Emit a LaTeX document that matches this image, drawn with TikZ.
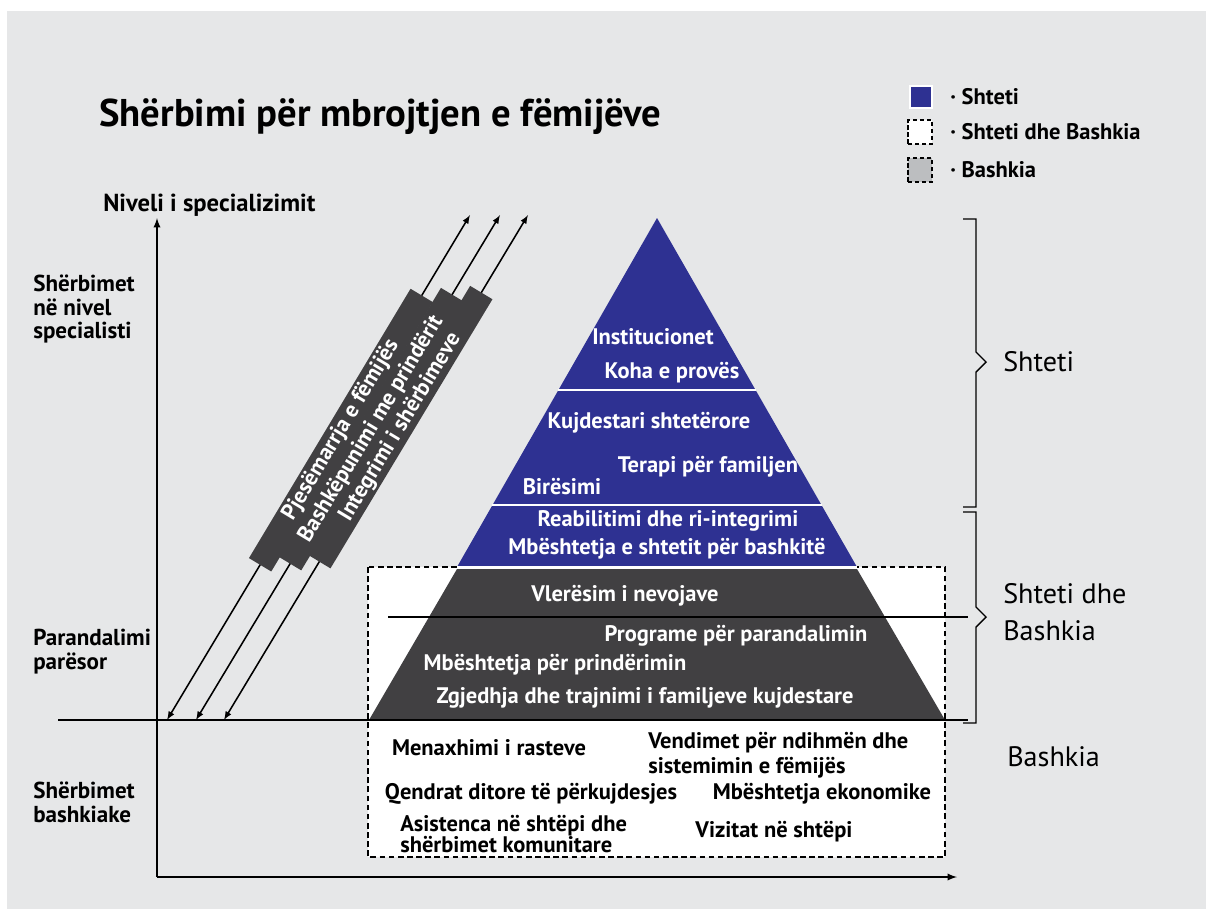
\documentclass[tikz,border=0pt]{standalone}
\usepackage{fontspec}
\setmainfont{PT Sans}
\usetikzlibrary{arrows}
\definecolor{shblue}{HTML}{2E3192}
\definecolor{shdark}{HTML}{414042}
\definecolor{shbg}{HTML}{E6E7E8}
\definecolor{shgrey}{HTML}{BCBEC0}
\begin{document}
\begin{tikzpicture}
  [x=0.025cm,y=-0.025cm,>=latex,
   every node/.style={font=\bfseries\fontsize{16}{18}\selectfont,inner sep=0pt},
   pyr/.style={text=white},
   side/.style={anchor=west,align=left,font=\bfseries\fontsize{16.4}{17}\selectfont},
   zone/.style={anchor=west,align=left,font=\mdseries\fontsize{20}{26}\selectfont},
   bar/.style={fill=shdark,text=white,sloped,minimum width=7.85cm,minimum height=0.65cm},
   key/.style={minimum size=0.6cm,draw,line width=1.2pt,dash pattern=on 3pt off 2pt}]
  \useasboundingbox (0,0) rectangle (1206,909);
  \fill[white] (0,0) rectangle (1206,909);
  \fill[shbg] (7,11) rectangle (1206,909);

  \node[anchor=west,font=\bfseries\fontsize{27.5}{30}\selectfont] (title) at (99,117) {Shërbimi për mbrojtjen e fëmijëve};

  \node[key,draw=white,solid,fill=shblue,minimum size=0.55cm] (k1) at (921,97) {};
  \node[key,fill=white] (k2) at (920,132) {};
  \node[key,fill=shgrey] (k3) at (920,170) {};
  \node[anchor=west] (t1) at (950,97) {· Shteti};
  \node[anchor=west] (t2) at (950,132) {· Shteti dhe Bashkia};
  \node[anchor=west] (t3) at (950,170) {· Bashkia};

  \draw[fill=white,line width=1.2pt,dash pattern=on 4pt off 2.5pt] (368,567) rectangle (945,857);
  \fill[shblue] (657,218) -- (857,567) -- (457,567) -- cycle;
  \fill[shdark] (457,569) -- (857,569) -- (945,720) -- (369,720) -- cycle;
  \draw[white,line width=1.5pt] (558,390) -- (756,390) (492,505) -- (822,505) (457,567) -- (857,567);

  \coordinate (o) at (157,877);
  \coordinate (ytop) at (157,218);
  \coordinate (xend) at (957,877);
  \coordinate (bl) at (58,720);
  \coordinate (br) at (968,720);
  \coordinate (ml) at (388,617);
  \coordinate (mr) at (968,617);
  \draw[->,line width=1.3pt] (o) -- (ytop);
  \draw[->,line width=1.3pt] (o) -- (xend);
  \draw[line width=1.5pt] (bl) -- (br);
  \draw[line width=1.1pt] (ml) -- (mr);

  \coordinate (a1) at (167,720); \coordinate (a2) at (470,215);
  \coordinate (b1) at (196,720); \coordinate (b2) at (500,215);
  \coordinate (c1) at (224,720); \coordinate (c2) at (528,215);
  \foreach \from/\to/\p/\txt in {a1/a2/0.574/Pjesëmarrja e fëmijës,
      b1/b2/0.576/Bashkëpunimi me prindërit, c1/c2/0.58/Integrimi i shërbimeve}
    \draw[latex-latex,line width=1.1pt] (\from) -- (\to) node[bar,pos=\p] {\txt};

  \node[pyr] (n1) at (653,337) {Institucionet};
  \node[pyr] (n2) at (672,373) {Koha e provës};
  \node[pyr] (n3) at (649,423) {Kujdestari shtetërore};
  \node[pyr] (n4) at (708,467) {Terapi për familjen};
  \node[pyr] (n5) at (562,487) {Birësimi};
  \node[pyr] (n6) at (668,521) {Reabilitimi dhe ri-integrimi};
  \node[pyr] (n7) at (667,549) {Mbështetja e shtetit për bashkitë};
  \node[pyr] (n8) at (625,596) {Vlerësim i nevojave};
  \node[pyr] (n9) at (736,636) {Programe për parandalimin};
  \node[pyr] (n10) at (555,665) {Mbështetja për prindërimin};
  \node[pyr] (n11) at (645,698) {Zgjedhja dhe trajnimi i familjeve kujdestare};

  \node (m1) at (489,748) {Menaxhimi i rasteve};
  \node[anchor=west,align=left,font=\bfseries\fontsize{16}{18}\selectfont] (m2) at (648,755) {Vendimet për ndihmën dhe\\sistemimin e fëmijës};
  \node (m3) at (531,794) {Qendrat ditore të përkujdesjes};
  \node (m4) at (822,794) {Mbështetja ekonomike};
  \node[anchor=west,align=left,font=\bfseries\fontsize{16}{15.5}\selectfont] (m5) at (400,834) {Asistenca në shtëpi dhe\\shërbimet komunitare};
  \node (m6) at (774,832) {Vizitat në shtëpi};

  \node[anchor=west,font=\bfseries\fontsize{17.5}{20}\selectfont] (axy) at (103,205) {Niveli i specializimit};
  \node[side] (s1) at (33,309) {Shërbimet\\në nivel\\specialisti};
  \node[side] (s2) at (33,652) {Parandalimi\\parësor};
  \node[side] (s3) at (33,802) {Shërbimet\\bashkiake};

  \draw[line width=1pt] (963,219) -- (976,219) -- (976,352) -- (986,362) -- (976,372) -- (976,507) -- (963,507);
  \draw[line width=1pt] (963,512) -- (976,512) -- (976,607) -- (986,617) -- (976,627) -- (976,723) -- (963,723);
  \node[zone] (z1) at (1003,362) {Shteti};
  \node[zone] (z2) at (1003,612) {Shteti dhe\\Bashkia};
  \node[zone] (z3) at (1007,757) {Bashkia};
\end{tikzpicture}
\end{document}
